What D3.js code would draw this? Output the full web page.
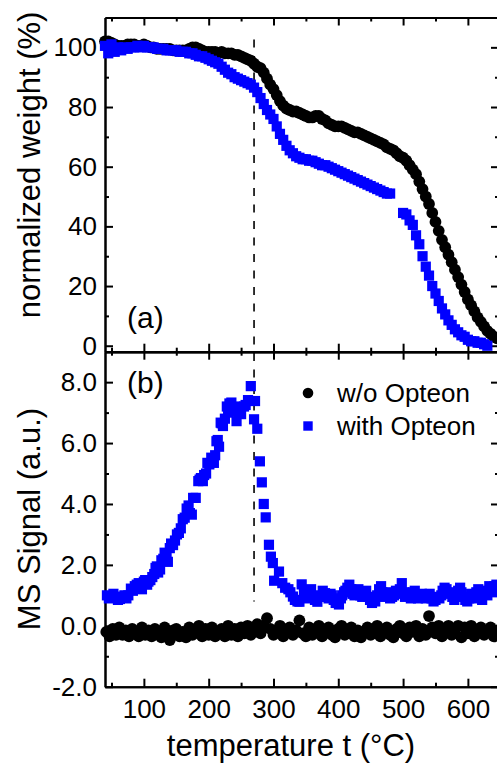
<!DOCTYPE html>
<html>
  <head>
    <title>TGA / MS</title>
    <script src="https://d3js.org/d3.v7.min.js"></script>
    <style>
      body { margin: 0; background: #fff; }
      text { font-family: "Liberation Sans", Arial, sans-serif; fill: #000; }
    </style>
  </head>
  <body>
    <svg width="497" height="763"></svg>
    <script>
      // (a) thermogravimetry, shared temperature grid
      const temps = [40, 45, 50, 55, 60, 65, 70, 75, 80, 85, 90, 95,
        100, 105, 110, 115, 120, 125, 130, 135, 140, 145, 150, 155, 160, 165, 170, 175, 180, 185, 190, 195,
        200, 205, 210, 215, 220, 225, 230, 235, 240, 245, 250, 255, 260, 265, 270, 275, 280, 285, 290, 295,
        300, 305, 310, 315, 320, 325, 330, 335, 340, 345, 350, 355, 360, 365, 370, 375, 380, 385, 390, 395,
        400, 405, 410, 415, 420, 425, 430, 435, 440, 445, 450, 455, 460, 465, 470, 475, 480, 485, 490, 495,
        500, 505, 510, 515, 520, 525, 530, 535, 540, 545, 550, 555, 560, 565, 570, 575, 580, 585, 590, 595,
        600, 605, 610, 615, 620, 625, 630, 635, 640, 645];
      const weightWithout = [102, 102, 101.5, 101, 100.5, 100.5, 100.5, 101, 101, 101, 100.5, 100.5,
        101, 100.5, 100, 100, 99.5, 99.5, 99.5, 99.5, 99.5, 99, 99, 99, 99, 99, 99.5, 100, 100, 99.5, 99, 98.5,
        98.5, 98.5, 98.5, 98, 98.5, 98, 98, 98, 97.5, 97.5, 97, 96.5, 96, 95.5, 94.5, 93.5, 93, 91.5, 89.5, 87.5,
        86, 84, 82, 80.5, 79.5, 79, 78.5, 78.5, 78, 77.5, 77, 76.5, 76.5, 77, 77, 76, 75.5, 74.5, 74, 73.5,
        73.5, 73.5, 73, 72.5, 72, 71.5, 71.5, 71, 70.5, 70, 69.5, 69, 68.5, 68, 67.5, 66.5, 66, 65.5, 64.5, 63.5,
        63, 62, 60.5, 59, 57.5, 55, 52.5, 50, 47.5, 44.5, 41.5, 38.5, 35.5, 33, 30.5, 28, 25.5, 23, 20.5, 18,
        15.5, 13.5, 11.5, 9.5, 8, 6.5, 5, 4, 3, 2.5];
      const weightWith = [100.5, 98, 101, 98.5, 100, 99, 100, 99.5, 100, 100, 100.5, 100,
        100.5, 100, 100, 100, 99.5, 99.5, 99.5, 99, 99, 99, 99, 98.5, 98.5, 98.5, 98, 98, 97.5, 97, 97, 96.5,
        96, 95.5, 95, 94.5, 93.5, 92.5, 91.5, 91, 90, 89.5, 89, 88.5, 88, 87.5, 86.5, 85, 83, 81, 79, 77.5,
        76, 73.5, 71, 69, 67, 65.5, 64.5, 63.5, 63, 62.5, 62.5, 62, 62, 61.5, 61, 60.5, 60.5, 60, 59.5, 59,
        58.5, 58, 57.5, 57, 56.5, 56, 55.5, 55, 54.5, 54, 53.5, 53, 52.5, 52, 51.5, 51, 51, null, null, null,
        44.5, 44, 42, 40.5, 37, 34, 30, 26.5, 23.5, 20, 17.5, 15, 12.5, 10.5, 8.5, 7, 5.5, 4.5, 3.5, 3,
        2, 1.5, 1.5, 1, 1, 0.5, 0, null, null, null];

      // (b) MS signal
      const msTempWith = [43, 46, 50, 53, 56, 60, 63, 66, 70, 73, 76, 80, 83, 86, 89, 92, 95, 97, 100, 102, 105, 107, 110,
        113, 116, 118, 120, 122, 125, 127, 130, 132, 135, 137, 140, 142, 145, 148, 151, 154, 157, 160, 163, 166, 169,
        171, 174, 176, 180, 184, 186, 188, 191, 193, 196, 198, 201, 204, 206, 208, 210, 212, 214, 216, 218.5, 220, 222,
        225, 228, 230, 232, 235, 238, 241.6, 243, 246.8, 250, 254.5, 257, 260.7, 265, 270, 271.5, 275, 279, 282, 285,
        288, 293, 296, 299, 301, 308.5, 313.6, 318, 323, 326, 330, 333, 337, 340, 343.5, 347, 350, 353, 355, 358, 361,
        364, 367.7, 370, 373, 376, 379.5, 382, 385, 388, 390, 393, 396, 399, 401, 404, 406, 409, 411, 414, 417, 420,
        422, 425, 428, 431, 434, 437, 440, 443, 446, 449, 452, 455, 457, 460, 463, 466, 468, 471, 474, 477, 480, 483,
        486, 489, 492, 495, 498, 501, 503, 506, 509, 512, 515, 518, 520, 523, 526, 529, 532, 535, 538, 541, 544, 547,
        550, 553, 556, 559, 561, 564, 567, 570, 573, 576, 579, 582, 585, 588, 590, 593, 596, 599, 602, 605, 607, 610,
        613, 616, 619, 622, 625, 628, 630, 633, 636, 639, 641, 644];
      const msWith = [1.0, 0.9, 0.95, 1.05, 0.95, 0.85, 0.88, 0.95, 1.0, 0.9, 1.0, 1.22, 1.15, 1.3, 1.35, 1.4, 1.25, 1.2, 1.45, 1.5, 1.35, 1.45, 1.5,
        1.6, 1.7, 1.9, 1.95, 1.75, 1.85, 2.15, 2.2, 2.4, 2.35, 2.1, 2.55, 2.7, 2.65, 2.8, 3.0, 3.05, 3.2, 3.5, 3.55, 3.85, 3.95,
        3.7, 3.65, 4.2, 4.2, 4.75, 4.8, 4.85, 4.75, 4.95, 5.0, 5.35, 5.3, 5.52, 5.5, 5.35, 5.6, 6.06, 6.1, 5.88, 6.67, 6.65, 6.56,
        6.8, 7.2, 7.0, 7.3, 7.33, 7.05, 7.2, 6.72, 7.0, 6.95, 7.2, 7.25, 7.41, 7.87, 6.78, 7.38, 6.47, 5.4, 4.71, 4.0,
        3.56, 2.66, 2.27, 2.06, 1.48, 1.78, 1.4, 1.25, 1.2, 1.1, 0.96, 0.85, 0.8, 0.79, 1.36, 1.1, 1.0, 0.9, 1.12, 1.2, 0.95,
        0.85, 0.79, 0.95, 1.0, 1.15, 1.07, 0.95, 0.9, 1.05, 1.0, 0.85, 0.75, 0.8, 0.7, 0.9, 1.0, 1.1, 1.15, 1.25, 1.35, 1.2,
        1.05, 1.0, 1.1, 1.2, 1.0, 0.95, 1.05, 1.15, 0.95, 0.85, 0.75, 0.9, 0.8, 1.0, 1.2, 1.3, 1.1, 0.95, 1.0, 1.1, 0.9, 0.95,
        1.0, 1.15, 1.05, 1.2, 1.4, 1.1, 0.95, 1.0, 1.05, 0.9, 1.1, 1.15, 1.0, 0.9, 0.95, 1.05, 1.0, 0.9, 0.95, 1.05, 0.9, 0.8,
        0.85, 0.95, 0.9, 1.0, 1.15, 1.25, 1.2, 1.05, 1.1, 0.95, 0.85, 1.0, 1.15, 1.25, 1.1, 0.95, 0.85, 0.8, 0.9, 1.05, 1.0, 0.9,
        1.1, 1.2, 0.95, 0.85, 1.05, 1.15, 1.0, 1.3, 1.2, 1.1, 1.3, 1.35];
      const msTempWithout = [42, 47, 52, 57, 62, 67, 72, 77, 82, 87, 92, 97, 102, 107, 112, 117, 122, 127, 132, 137, 140,
        145, 150, 155, 160, 165, 170, 175, 180, 185, 190, 195, 200, 205, 210, 215, 220, 225, 230, 235, 240, 245,
        250, 255, 260, 265, 270, 275, 280, 285, 290, 295, 300, 305, 310, 315, 320, 325, 330, 335, 340, 345,
        350, 355, 360, 365, 370, 375, 380, 385, 390, 395, 400, 405, 410, 415, 420, 425, 430, 435, 440, 445,
        450, 455, 460, 465, 470, 475, 480, 485, 490, 495, 500, 505, 510, 515, 520, 525, 530, 535, 540, 545,
        550, 555, 560, 565, 570, 575, 580, 585, 590, 595, 600, 605, 610, 615, 620, 625, 630, 635, 640, 645];
      const msWithout = [-0.2, -0.35, -0.1, -0.3, -0.05, -0.3, -0.15, -0.35, -0.1, -0.25, -0.35, -0.05, -0.3, -0.15, -0.35, -0.1, -0.25, -0.38, -0.05, -0.3, -0.47,
        -0.15, -0.1, -0.35, -0.2, -0.38, -0.05, -0.3, -0.15, 0.0, -0.35, -0.1, -0.3, -0.05, -0.35, -0.2, -0.1, -0.35, 0.0, -0.3, -0.1, -0.35,
        -0.05, -0.25, 0.0, -0.3, -0.05, 0.05, -0.25, 0.0, 0.25, -0.1, -0.3, -0.15, 0.0, -0.35, -0.2, -0.05, -0.3, -0.15, 0.18, -0.25,
        -0.35, -0.05, -0.3, -0.15, 0.0, -0.35, -0.2, -0.05, -0.3, -0.38, -0.1, 0.0, -0.3, -0.2, -0.05, -0.35, -0.15, -0.38, -0.2, -0.05,
        -0.3, -0.1, 0.0, -0.35, -0.2, -0.05, -0.3, -0.38, -0.1, 0.0, -0.25, -0.35, -0.05, -0.2, 0.0, -0.35, -0.1, -0.3, 0.32, -0.05,
        -0.25, 0.0, -0.35, -0.1, 0.0, -0.3, -0.15, 0.0, -0.38, -0.05, -0.25, 0.0, -0.35, -0.15, -0.05, -0.3, -0.2, -0.05, -0.35, -0.15];

      const markerTemp = 270;
      const xTicks = [100, 200, 300, 400, 500, 600];
      const xMinor = [50, 150, 250, 350, 450, 550];
      const weightTicks = [0, 20, 40, 60, 80, 100];
      const weightMinor = [10, 30, 50, 70, 90];
      const msTicks = [-2, 0, 2, 4, 6, 8];
      const msMinor = [-1, 1, 3, 5, 7];
      const seriesNames = ["w/o Opteon", "with Opteon"];
      const colors = {without: "#000000", with: "#0000ff"};

      const svg = d3.select("svg");
      const left = 105, right = 499;
      const topPanel = {top: 17.5, bottom: 351.7};
      const botPanel = {top: 351.7, bottom: 686.7};
      const tickFont = 26;
      const titleFont = 31;

      const xScale = d3.scaleLinear().domain([40, 648]).range([left, right]);
      const yTop = d3.scaleLinear().domain([-2, 110]).range([topPanel.bottom, topPanel.top]);
      const yBot = d3.scaleLinear().domain([-2, 9]).range([botPanel.bottom, botPanel.top]);

      function frame(yScale, panel, yMajor, yMinor, yFormat, xLabels) {
        const g = svg.append("g");
        // bottom
        g.append("g").attr("transform", `translate(0,${panel.bottom})`)
          .call(d3.axisBottom(xScale).tickValues(xTicks).tickSize(-8).tickSizeOuter(0).tickPadding(13)
            .tickFormat(xLabels ? d3.format("d") : ""));
        g.append("g").attr("transform", `translate(0,${panel.bottom})`)
          .call(d3.axisBottom(xScale).tickValues(xMinor).tickSize(-4).tickSizeOuter(0).tickFormat(""));
        // top
        g.append("g").attr("transform", `translate(0,${panel.top})`)
          .call(d3.axisTop(xScale).tickValues(xTicks).tickSize(-8).tickSizeOuter(0).tickFormat(""));
        g.append("g").attr("transform", `translate(0,${panel.top})`)
          .call(d3.axisTop(xScale).tickValues(xMinor).tickSize(-4).tickSizeOuter(0).tickFormat(""));
        // left
        g.append("g").attr("transform", `translate(${left},0)`)
          .call(d3.axisLeft(yScale).tickValues(yMajor).tickSize(-8).tickSizeOuter(0).tickPadding(8).tickFormat(yFormat));
        g.append("g").attr("transform", `translate(${left},0)`)
          .call(d3.axisLeft(yScale).tickValues(yMinor).tickSize(-4).tickSizeOuter(0).tickFormat(""));
        // right
        g.append("g").attr("transform", `translate(${right},0)`)
          .call(d3.axisRight(yScale).tickValues(yMajor).tickSize(-8).tickSizeOuter(0).tickFormat(""));
        g.append("g").attr("transform", `translate(${right},0)`)
          .call(d3.axisRight(yScale).tickValues(yMinor).tickSize(-4).tickSizeOuter(0).tickFormat(""));

        g.selectAll("path.domain").attr("stroke", "#000").attr("stroke-width", 2);
        g.selectAll(".tick line").attr("stroke", "#000").attr("stroke-width", 2);
        g.selectAll(".tick text")
          .style("font-family", '"Liberation Sans", Arial, sans-serif')
          .style("font-size", tickFont + "px")
          .attr("fill", "#000");
        return g;
      }

      frame(yTop, topPanel, weightTicks, weightMinor, d => String(d), false);
      frame(yBot, botPanel, msTicks, msMinor, d => d.toFixed(1), true);

      // dashed marker line across both panels
      svg.append("line")
        .attr("x1", xScale(markerTemp)).attr("x2", xScale(markerTemp))
        .attr("y1", yTop(102.6)).attr("y2", yBot(0.8))
        .attr("stroke", "#000").attr("stroke-width", 1.6)
        .attr("stroke-dasharray", "8,8.5");

      const r = 5.9, sq = 10.2;

      function circles(xs, ys, yScale) {
        svg.append("g").selectAll("circle")
          .data(xs.map((t, i) => [t, ys[i]]).filter(d => d[1] != null))
          .join("circle")
            .attr("cx", d => xScale(d[0]))
            .attr("cy", d => yScale(d[1]))
            .attr("r", r)
            .attr("fill", colors.without);
      }
      function squares(xs, ys, yScale) {
        svg.append("g").selectAll("rect")
          .data(xs.map((t, i) => [t, ys[i]]).filter(d => d[1] != null))
          .join("rect")
            .attr("x", d => xScale(d[0]) - sq / 2)
            .attr("y", d => yScale(d[1]) - sq / 2)
            .attr("width", sq).attr("height", sq)
            .attr("fill", colors.with);
      }

      circles(temps, weightWithout, yTop);
      squares(temps, weightWith, yTop);
      circles(msTempWithout, msWithout, yBot);
      squares(msTempWith, msWith, yBot);

      // panel labels
      svg.append("text").attr("x", 127).attr("y", 328).style("font-size", "30px").text("(a)");
      svg.append("text").attr("x", 127).attr("y", 393).style("font-size", "30px").text("(b)");

      // legend
      const legend = svg.append("g");
      legend.append("circle").attr("cx", 308).attr("cy", 393).attr("r", 5.3).attr("fill", colors.without);
      legend.append("rect").attr("x", 308 - 4.7).attr("y", 426 - 4.7).attr("width", 9.4).attr("height", 9.4)
        .attr("fill", colors.with);
      legend.selectAll("text").data(seriesNames).join("text")
        .attr("x", 337)
        .attr("y", (d, i) => 402 + i * 33)
        .style("font-size", "26px")
        .text(d => d);

      // axis titles
      svg.append("text")
        .attr("transform", "translate(40,165) rotate(-90)")
        .attr("text-anchor", "middle")
        .style("font-size", titleFont + "px")
        .text("normalized weight (%)");
      svg.append("text")
        .attr("transform", "translate(40,519) rotate(-90)")
        .attr("text-anchor", "middle")
        .style("font-size", titleFont + "px")
        .text("MS Signal (a.u.)");
      svg.append("text")
        .attr("x", 291).attr("y", 756)
        .attr("text-anchor", "middle")
        .style("font-size", titleFont + "px")
        .text("temperature t (°C)");
    </script>
  </body>
</html>
